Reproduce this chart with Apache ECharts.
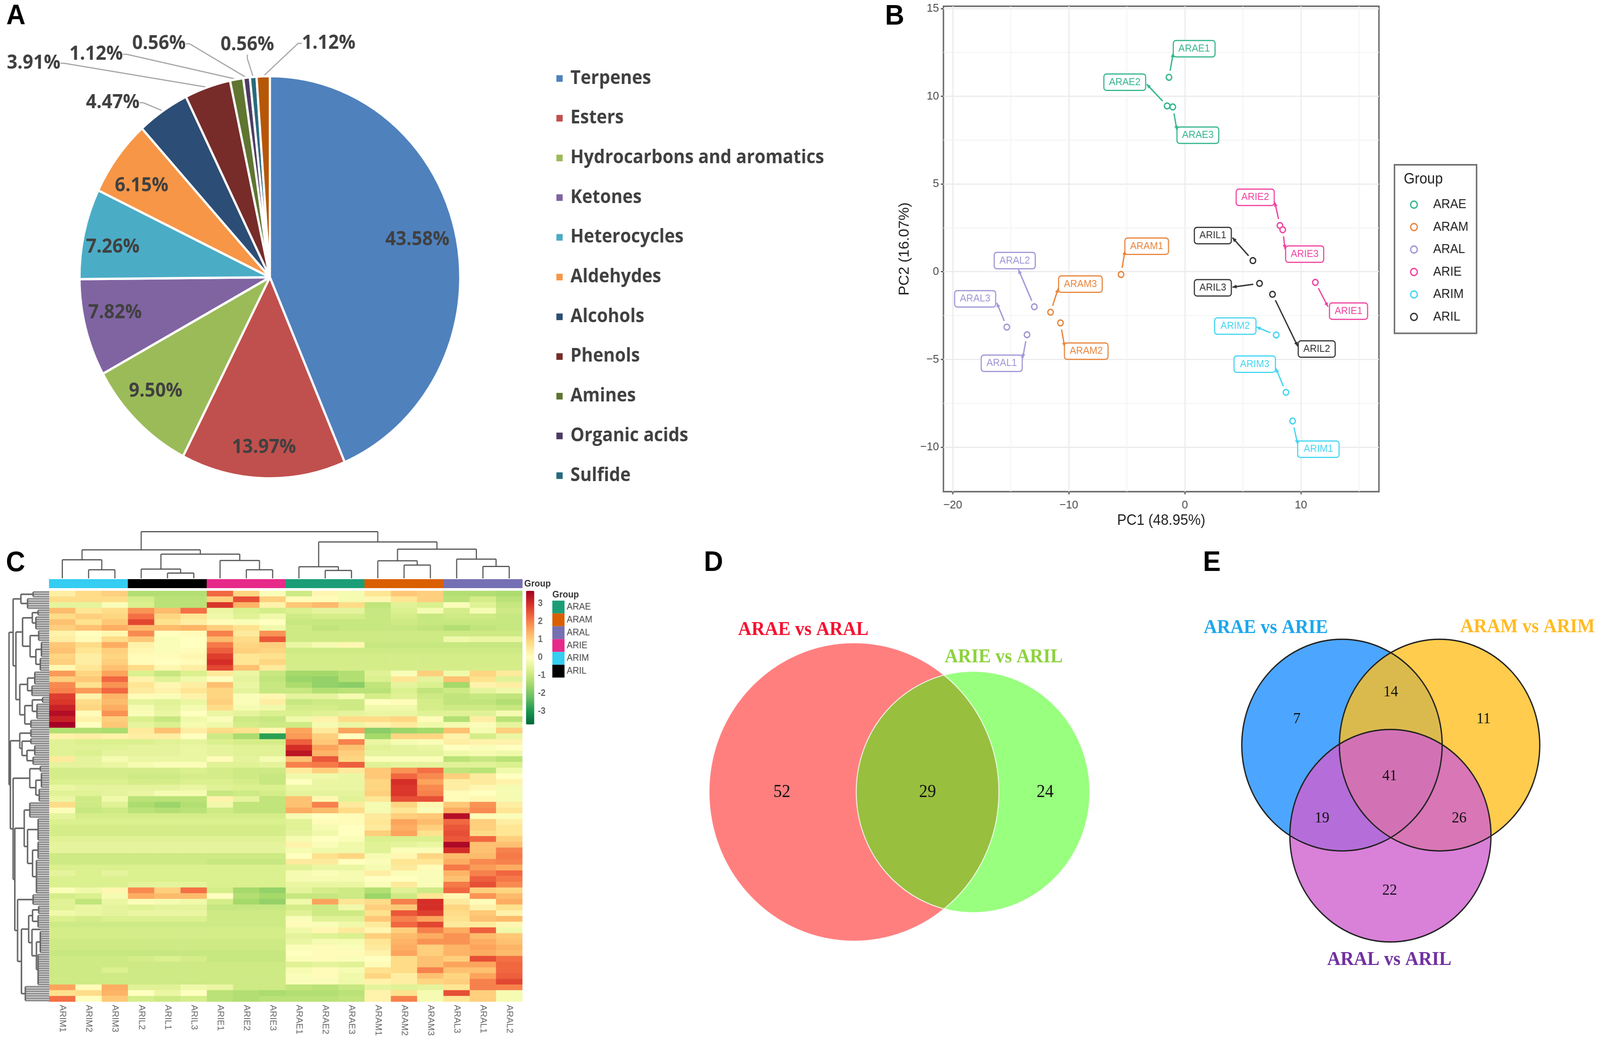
<!DOCTYPE html>
<html><head><meta charset="utf-8"><title>Volatile metabolites panel figure</title>
<style>html,body{margin:0;padding:0;background:#fff;overflow:hidden}#c{width:4328px;height:2658px;transform-origin:0 0}</style>
<script src="https://cdn.jsdelivr.net/npm/echarts@6/dist/echarts.min.js"></script></head><body><div id="c"></div>
<script>
/* ---------- Panel A ---------- */
const pieCategories=['Terpenes','Esters','Hydrocarbons and aromatics','Ketones','Heterocycles','Aldehydes','Alcohols','Phenols','Amines','Organic acids','Sulfide','Other'];
const pieValues=[43.58,13.97,9.50,7.82,7.26,6.15,4.47,3.91,1.12,0.56,0.56,1.12];
const pieColors=['#4F81BD','#C0504D','#9BBB59','#8064A2','#4BACC6','#F79646','#2C4D75','#772C2A','#5F7530','#4D3B62','#276A7C','#B65708'];
const pieLabelAt=[[1129,614],[714,1146],[421,1002],[311,801],[305,633],[383,476],[305,263],[91,162],[260,139],[430,112],[669,115],[889,111]];
/* ---------- Panel B ---------- */
const pcaGroups=['ARAE','ARAM','ARAL','ARIE','ARIM','ARIL'];
const pcaColors=['#35B58E','#E8853C','#9D96D6','#F0439F','#45D6F3','#333333'];
const pcaNames=['ARAE1','ARAE2','ARAE3','ARAM1','ARAM2','ARAM3','ARAL1','ARAL2','ARAL3','ARIE1','ARIE2','ARIE3','ARIM1','ARIM2','ARIM3','ARIL1','ARIL2','ARIL3'];
const pc1=[-1.37,-1.53,-1.04,-5.5,-10.72,-11.57,-13.6,-12.97,-15.34,11.24,8.19,8.43,9.28,7.87,8.71,5.86,7.55,6.43];
const pc2=[11.08,9.45,9.39,-0.16,-2.92,-2.31,-3.59,-2.0,-3.16,-0.61,2.63,2.39,-8.51,-3.61,-6.88,0.63,-1.29,-0.67];
const tagPC1=[0.8,-5.18,1.12,-3.29,-8.5,-9.0,-15.78,-14.66,-18.07,14.1,6.06,10.32,11.5,4.34,6.02,2.41,11.36,2.41];
const tagPC2=[12.71,10.8,7.78,1.45,-4.53,-0.71,-5.22,0.63,-1.55,-2.25,4.24,1.0,-10.12,-3.1,-5.27,2.06,-4.41,-0.92];
const tipPC1=[-1.0,-3.29,-0.68,-5.16,-10.36,-10.92,-13.98,-14.34,-16.2,12.33,7.75,8.63,9.72,6.18,7.83,4.1,9.72,4.1];
const tipPC2=[12.47,10.69,8.06,1.2,-4.29,-0.96,-4.94,0.12,-1.78,-2.0,3.96,1.29,-9.84,-3.16,-5.5,1.94,-4.25,-0.88];
const pcaXTicks=[-20,-10,0,10], pcaYTicks=[-10,-5,0,5,10,15];
const pcaXMinor=[-15,-5,5,15], pcaYMinor=[-7.5,-2.5,2.5,7.5,12.5];
/* ---------- Panel C ---------- */
const heatColumns=['ARIM1','ARIM2','ARIM3','ARIL2','ARIL1','ARIL3','ARIE1','ARIE2','ARIE3','ARAE1','ARAE2','ARAE3','ARAM1','ARAM2','ARAM3','ARAL3','ARAL1','ARAL2'];
const heatRows=[
[.4,.8,1,-1.3,-1.3,-1.3,2.3,.9,-.1,-.9,.2,-.2,.6,1.1,1,-1.3,-1.3,-1.4],
[.8,.8,.8,-.8,-1.2,-1.2,1,2.6,1,.1,.1,-.2,.2,.6,1,-1.2,-.8,-1.2],
[-.5,-.5,-.1,-.7,-1.2,-1.2,2.9,1.4,.3,1.1,1.3,.8,-1.1,-.6,-.7,-.1,-.6,-1],
[1.3,.6,.8,1.8,1.3,2.2,-.4,-.7,-.8,-.7,-.5,-.5,-1,-.7,-.2,-.8,-.2,-.9],
[.8,1,.9,2.2,.9,.6,-.3,-.6,-.3,-.9,-.8,-.8,-1,-.8,-1,-.9,-.9,-1],
[1.2,.7,1.1,2.7,.7,.4,.1,-.1,0,-1,-1,-1,-1,-.9,-1,-1,-1,-1],
[1,1.2,1.5,1.3,1.3,1.4,1,.7,-.3,-.9,-1.1,-1,-1,-1,-1.1,-1.3,-1.1,-1],
[.3,0,.2,1.9,0,.1,2,.5,1.8,-.9,-.9,-.9,-.9,-.9,-.9,-.9,-.9,-.9],
[.4,.1,.8,1.1,-.1,0,1.3,.8,2.5,-.9,-.9,-.9,-.9,-.9,-.9,-.3,-.4,-.4],
[1.1,.8,1.5,.3,-.1,0,2.1,.9,1,-.4,-.2,.2,-1,-1,-1,-1,-1,-1],
[1.2,.6,1,.2,-.1,.1,2.4,1,.9,-.9,-.9,-.9,-.9,-.9,-.9,-.9,-.9,-.9],
[.9,.4,.9,.1,.1,.2,2.8,.6,.7,-.8,-.8,-.8,-.8,-.8,-.8,-.8,-.8,-.8],
[1,.4,1,.1,0,.1,3,.6,.9,-.8,-.8,-.8,-.8,-.8,-.8,-.8,-.8,-.8],
[.2,.6,1.2,.8,.2,.4,2.7,1.2,.5,-.8,-.8,-.8,-.8,-.8,-.8,-.8,-.8,-.8],
[1.7,.9,1.6,-.7,-1,-.7,.5,-.4,-1,-1.5,-1.5,-1.3,-.6,-.1,1,-.3,.9,.5],
[1,1.1,2.3,.3,-.6,-.3,0,-.5,-1.1,-1.6,-1.7,-1.3,-.7,.6,-.5,1.2,.7,-.6],
[1.9,.7,1.8,.6,.2,.4,1.2,-.4,-1,-1.4,-1.7,-1.8,-1.1,-.5,-.7,-1.5,.3,.4],
[2,1.7,2.3,.5,.3,.6,.9,-.5,-1,-1,-1.3,-1.2,-1.2,-.7,-1.1,-.9,-.5,-.3],
[2.8,.3,1.4,.1,-.1,.3,.9,-.1,.2,-.5,-.5,-.2,-.8,-.6,-.9,-1.1,-1,-1.1],
[2.9,.8,1.3,-.5,-.6,-.4,1,-.1,.4,-1,-.9,-.9,0,.1,-.8,-1.1,-1.1,-1.3],
[3.2,.9,1.5,-.2,-.5,-.2,.8,-.2,-.3,-.8,-.8,-.9,-.3,-.3,-.8,-.9,-.9,-1],
[3.5,.1,1.8,-.1,-.4,0,-.4,-.5,-.7,-.7,-.6,-.5,-.4,-.4,-.6,-.6,-.6,-.2],
[3.2,.3,1,-.7,-1,-.3,-.1,-.9,-1,-.3,.3,.8,.8,.9,.1,-1.3,.4,-1.2],
[3.7,0,1.1,-.5,-.7,-.2,-.3,-.8,-.9,-.9,-.2,-.4,.3,.5,-.3,-.2,-.1,-.5],
[-1.3,-1.3,-1.4,.5,1.2,.4,.8,.7,.2,1.6,.5,1.6,-1.8,-1.6,-1.5,1.2,-.2,1],
[.3,.4,.3,.4,.4,0,-.9,-1.4,-2.8,1.7,1,0,-1.5,.9,.9,.3,-.8,-.4],
[-.6,-.7,-.7,-.7,-.6,-.5,-.7,-.8,-.8,2.4,1.1,2,-.4,-.2,-.1,.4,.3,.3],
[-.6,-.6,-.6,-.5,-.5,-.4,-.5,-.6,-.6,3,1.6,1.2,-.6,-.5,-.4,0,-.1,0],
[-.6,-.7,-.5,-.5,-.5,-.4,-.5,-.6,-.6,3.4,1.4,1,-.5,-.5,-.5,-.3,-.2,-.3],
[.5,-.5,-.2,-.4,-.4,-.4,.1,-.5,-.2,1.2,2.5,.9,-.1,-.1,-.1,-1.2,-1,-1.2],
[-.5,-.5,-.4,-.2,-.1,-.1,-.6,-.6,-.5,2,2.1,2.4,-.6,-.5,-.5,-.6,-.6,-.7],
[-.8,-.8,-.8,-.8,-.8,-.7,-.8,-.9,-.9,.5,1,.5,1.1,1.8,2.2,-1.1,-1.2,-.3],
[-.8,-.8,-.8,-.9,-.9,-.8,-.8,-.9,-1,-.3,-.3,-.4,1.1,2.3,1.9,1,.5,0],
[-.7,-.7,-.7,-.8,-.8,-.7,-.7,-.8,-1,0,-.4,-.4,.9,3,1.6,.4,.5,.3],
[-.4,-.5,-.5,-.5,-.5,-.4,-.6,-.7,-.7,-.4,-.4,-.4,.9,2.9,1.9,.4,.2,-.2],
[-.6,-.6,-.5,-.4,-.2,-.2,-1,-.9,-.8,-.5,-.5,-.5,1,2.9,2,.1,0,-.2],
[-.4,-.9,-.3,-1.2,-1.2,-1.2,.3,-.5,-1.1,1.2,.2,-.6,.6,2.6,2.6,.1,.2,-.2],
[.8,-.9,-.6,-1.4,-1.6,-1.3,-.3,-1.1,-1.1,1.2,2,.5,-.2,.9,.2,1.1,1.8,.4],
[-.1,-1,-.9,-1.2,-1.3,-1.2,-.9,-1.1,-1.1,1.5,1.3,.8,-.2,.6,-.1,1.5,1.9,.6],
[-.5,-.8,-.8,-.8,-.8,-.8,-.8,-.8,-.8,-.2,0,.1,.5,1,1.1,3.5,.1,-.1],
[-.7,-.7,-.7,-.7,-.7,-.7,-.7,-.7,-.7,-.6,.1,.1,.6,1.6,1.3,2.3,1,.4],
[-.8,-.8,-.8,-.8,-.8,-.8,-.8,-.8,-.8,-.6,-.2,0,.5,1.5,1,2.5,1,.6],
[-.8,-.8,-.8,-.8,-.8,-.8,-.8,-.8,-.8,-.5,-.3,0,1,1.6,.7,2.6,.8,.6],
[-.6,-.6,-.6,-.6,-.6,-.6,-.6,-.6,-.6,-.2,0,-.1,-.7,-.7,-.7,2.5,2.3,1],
[-.5,-.5,-.5,-.5,-.5,-.5,-.5,-.5,-.5,.3,-.1,-.3,-.6,-.5,-.4,3.6,1.2,1.2],
[-.5,-.5,-.5,-.5,-.5,-.5,-.5,-.5,-.5,-.2,-.3,-.3,-.6,-.1,-.1,3,1.2,2],
[-.9,-.9,-.9,-.9,-.9,-.9,-.9,-.9,-.9,0,.7,.9,-.2,.2,.9,1.3,1.3,2.1],
[-.9,-.9,-.9,-.9,-.9,-.9,-1,-1,-1,.5,.5,0,-.1,.6,.6,1.5,1.9,2],
[-.7,-.7,-.7,-.7,-.7,-.7,-.7,-.7,-.7,-.6,-.4,-.4,-.2,.5,.1,2.1,1.7,1.5],
[-.5,-.7,-.5,-.7,-.7,-.7,-.7,-.7,-.7,-.2,-.1,-.2,.4,-.1,-.1,1.4,2,2.3],
[-.7,-.7,-.7,-.7,-.7,-.7,-.7,-.7,-.7,-.2,-.2,-.2,0,0,-.1,1.2,2.4,2.1],
[-.7,-.7,-.7,-.5,-.5,-.5,-.7,-.7,-.7,-.4,-.4,-.4,-.1,.5,-.1,2.1,2.6,1.9],
[-.1,-.3,.2,1.9,1,2.2,-.8,-1.5,-1.7,-.5,-.8,-.9,-1.3,-.6,-.9,2.3,1,.9],
[-.8,-.7,-.2,1.5,1.3,1.3,0,-1.3,-1.5,-1,-1,-.9,-1.6,-.9,.6,.2,1.8,1.3],
[-.6,-1.1,-.4,-.1,-.2,-.3,-.8,-1.5,-1.7,-.3,1.6,.6,.8,2,3,.5,.1,1.5],
[-.6,-.4,-.5,-.6,-.5,-.5,-1,-1,-1,-.8,-.9,-.3,1,1.1,3,.9,.3,.7],
[-.3,-.4,-.5,-.4,-.4,-.4,-.9,-.9,-.9,-.6,-.9,-.9,.7,2.5,2.8,.8,1.1,.3],
[-.7,-.8,-.7,-.7,-.7,-.7,-.9,-.9,-.9,-.1,-.6,-.6,1.1,2,1.6,.7,1.2,1.3],
[-.9,-.9,-.9,-.9,-.9,-.9,-.9,-.9,-.9,.1,-.1,-.3,.5,2.3,2.7,.5,.5,.2],
[-.8,-.8,-.8,-.8,-.8,-.8,-.8,-.8,-.8,-.3,.2,.5,.2,1,2,1.5,2.4,-.3],
[-.8,-.8,-.8,-.8,-.8,-.8,-.8,-.8,-.8,-.5,-.6,-.7,1,1.3,1.5,1.8,1.3,1.1],
[-.9,-.9,-.9,-.9,-.9,-.9,-.9,-.9,-.9,-.4,-.2,-.2,.6,1.4,1.8,1.8,1.5,1.2],
[-.9,-.9,-.9,-.9,-.9,-.9,-.9,-.9,-.9,-.1,.1,-.1,.5,1.5,1,1.4,1.6,1.4],
[-1,-1,-1,-1,-1,-1,-1,-1,-1,0,.1,.1,.3,1.6,1,1.4,1.5,1.3],
[-.9,-.9,-.9,-.8,-.7,-.8,-1,-1,-1,-.1,.1,-.1,0,.8,1.2,1,2.6,2.2],
[-.9,-.9,-.9,-.9,-.9,-.9,-.9,-.9,-.9,-.6,-.5,-.6,.1,.8,1.2,1.6,1.6,2.3],
[-.9,-.9,-.7,-.9,-.9,-.9,-.9,-.9,-.9,-.2,.1,-.2,.7,.8,2,1.2,1.2,2.3],
[-.9,-.9,-.9,-.9,-.9,-.9,-.9,-.9,-.9,-.1,.1,-.3,.9,.4,1.2,.9,1.6,2.4],
[-.9,-.9,-.9,-.9,-.9,-.9,-.9,-.9,-.9,-.1,-.1,-.3,.3,.4,.9,1,2,2.7],
[1.6,.1,1.5,-.6,-.6,-.3,-.4,-.9,-.9,-1.1,-1.2,-1,-.5,-.6,-.5,.6,2,2],
[.7,.8,1.4,0,-.4,0,-1.2,-1.3,-1.4,-1.3,-1.3,-1.2,.3,.7,-.2,2.6,1,-.2],
[2.2,0,1.1,-.8,-.9,-.8,-1.2,-1.3,-1.2,-1.2,-1.2,-1.1,.3,2,-.2,.6,1,-.2]
];
const heatScale=['#006837','#1A9850','#66BD63','#A6D96A','#D9EF8B','#FFFFBF','#FEE08B','#FDAE61','#F46D43','#D73027','#A50026'];
const scaleTicks=[-3,-2,-1,0,1,2,3];
const annotGroups=['ARAE','ARAM','ARAL','ARIE','ARIM','ARIL'];
const annotColors=['#1B9E77','#D95F02','#7570B3','#E7298A','#35CDF2','#000000'];
const columnGroup=[4,4,4,5,5,5,3,3,3,0,0,0,1,1,1,2,2,2];
const columnTree=[141,[86,[56,0,[26,1,2]],[73,[28,3,[16,4,5]],[54,6,[26,7,8]]]],[110,[35,9,[24,10,11]],[88,[53,12,[40,13,14]],[58,15,[36,16,17]]]]];
const rowTree=[38,
 [75,[145,[255,3],[205,5]],
  [100,
   [160,[248,[300,3],[280,6]],[228,[305,5],[280,[330,7],[320,6]]]],
   [135,[205,[270,6],[245,5]],[180,[248,[340,3],[290,7]],[235,4]]]]],
 [50,
  [135,[235,4],[155,[235,3],[200,[270,5],[255,4]]]],
  [75,
   [225,[320,3],[280,[330,7],[310,6]]],
   [90,
    [175,[225,7],[205,[300,10],[250,[300,8],[285,15]]]],
    [115,[255,5],[150,[215,[250,[305,4],[300,6]],[245,[320,1],[285,[320,10],[300,14]]]],[185,7]]]]]]];
/* ---------- Panels D, E ---------- */
const vennDNames=['ARAE vs ARAL','ARIE vs ARIL'];
const vennDCx=[410,732],vennDCy=[388,388],vennDRx=[392,316],vennDRy=[382,309];
const vennDFills=['rgba(255,0,0,0.5)','rgba(51,255,0,0.5)'];
const vennDCounts=[52,29,24],vennDCountX=[215,609,927],vennDCountY=[389,389,389];
const vennENames=['ARAE vs ARIE','ARAM vs ARIM','ARAL vs ARIL'];
const vennECx=[290,554,421],vennECy=[288,288,520],vennER=[271,271,272];
const vennEFills=['rgba(0,128,255,0.7)','rgba(255,191,33,0.8)','rgba(207,96,207,0.8)'];
const vennECounts=[7,14,11,41,19,26,22],vennECountX=[168,422,673,419,236,607,419],vennECountY=[221,152,221,367,475,475,660];

/* The browser window may be narrower than the 4328 design width: squeeze the drawing to fit it. */
const DESIGN_W=4328,DESIGN_H=2658;
const host=document.getElementById('c');
const fit=Math.min(1,window.innerWidth/DESIGN_W);
if(fit<1)host.style.transform='scaleX('+fit+')';

const SANS='"Liberation Sans",Arial,sans-serif',SERIF='"Liberation Serif","Times New Roman",serif',PIEF='"Open Sans",sans-serif';
const txt=(t,x,y,font,fill,al)=>({type:'text',x,y,z:100,silent:true,style:{text:t,font,fill,textAlign:al||'center',textVerticalAlign:'middle'}});
const graphics=[
 txt('A',43,42,'bold 72px '+SANS,'#000'),txt('B',2420,43,'bold 72px '+SANS,'#000'),txt('C',42,1443,'bold 72px '+SANS,'#000'),
 txt('D',1930,1442,'bold 72px '+SANS,'#000'),txt('E',3278,1442,'bold 72px '+SANS,'#000'),
 txt('Group',3850,460,'38px '+SANS,'#222'),
 txt('Group',1418,1495,'bold 24px '+SANS,'#333','left'),txt('Group',1494,1523,'bold 24px '+SANS,'#333','left'),
 txt(vennDNames[0],2173,1613,'bold 50px '+SERIF,'#F5102F'),txt(vennDNames[1],2715,1683,'bold 50px '+SERIF,'#8CD23C'),
 txt(vennENames[0],3424,1608,'bold 50px '+SERIF,'#1AA7EE'),txt(vennENames[1],4132,1606,'bold 50px '+SERIF,'#FFBB22'),
 txt(vennENames[2],3758,2458,'bold 50px '+SERIF,'#7030A0')
];

/* tree helpers */
function colSegments(){const s=[];(function w(n){if(typeof n==='number')return[n+.5,0];const a=w(n[1]),b=w(n[2]);s.push([a[0],a[1],a[0],n[0]],[a[0],n[0],b[0],n[0]],[b[0],n[0],b[0],b[1]]);return[(a[0]+b[0])/2,n[0]];})(columnTree);return s;}
let leafTotal=0;
function rowSegments(){const s=[];const leaves=[];(function w(n){
  if(n.length===2){const st=leafTotal;for(let i=0;i<n[1];i++){leaves.push([n[0],leafTotal+.5,400,leafTotal+.5]);leafTotal++;}
    if(n[1]>1)s.push([n[0],st+.5,n[0],leafTotal-.5]);return[n[0],st+n[1]/2];}
  const a=w(n[1]),b=w(n[2]);s.push([n[0],a[1],a[0],a[1]],[n[0],b[1],b[0],b[1]],[n[0],a[1],n[0],b[1]]);return[n[0],(a[1]+b[1])/2];
 })(rowTree);return{s,leaves};}
const colSeg=colSegments();const rowSeg=rowSegments();
const segRender=(list,color,w)=>(p,api)=>{const d=list[p.dataIndex];const a=api.coord([d[0],d[1]]),b=api.coord([d[2],d[3]]);return{type:'line',shape:{x1:a[0],y1:a[1],x2:b[0],y2:b[1]},style:{stroke:color,lineWidth:w,fill:null}};};

const heatData=[];heatRows.forEach((r,i)=>r.forEach((v,j)=>heatData.push([j,i,v])));
const rowIds=heatRows.map((_,i)=>'m'+(i+1));

const hidden=(extra)=>Object.assign({show:false},extra);
const grids=[
 {left:2552,top:16,width:1178,height:1243,show:true,borderColor:'#707070',borderWidth:4,backgroundColor:'#fff'},
 {left:133,top:1513,width:1280,height:1052},
 {left:133,top:1483,width:1280,height:23},
 {left:133,top:1330,width:1280,height:151},
 {left:13,top:1513,width:120,height:1052},
 {left:1423,top:1513,width:22,height:342},
 {left:1494,top:1538,width:33,height:197},
 {left:1900,top:1640,width:1060,height:780},
 {left:3340,top:1620,width:840,height:810}
];
const axLabel={fontFamily:SANS,fontSize:30,color:'#4D4D4D',formatter:v=>String(v).replace('-','\u2212')};
const xAxes=[
 {gridIndex:0,type:'value',min:-20.8,max:16.72,name:'PC1 (48.95%)',nameLocation:'middle',nameGap:56,nameTextStyle:{fontFamily:SANS,fontSize:38,color:'#222'},
  axisLine:{show:false,onZero:false},axisTick:{show:true,length:7,customValues:pcaXTicks,lineStyle:{color:'#555',width:3}},axisLabel:Object.assign({customValues:pcaXTicks,margin:20},axLabel),splitLine:{show:true,lineStyle:{color:'#EBEBEB',width:3}}},
 {gridIndex:1,type:'category',data:heatColumns,axisLine:{show:false},axisTick:{show:false},axisLabel:{rotate:-90,interval:0,margin:8,fontFamily:SANS,fontSize:23,color:'#666'}},
 hidden({gridIndex:2,type:'category',data:heatColumns}),
 hidden({gridIndex:3,type:'value',min:0,max:18}),
 hidden({gridIndex:4,type:'value',min:0,max:400}),
 hidden({gridIndex:5,type:'value',min:0,max:1}),
 hidden({gridIndex:6,type:'category',data:['Group']}),
 hidden({gridIndex:7,type:'value',min:0,max:1060}),
 hidden({gridIndex:8,type:'value',min:0,max:840})
];
const yAxes=[
 {gridIndex:0,type:'value',min:-12.54,max:15.13,name:'PC2 (16.07%)',nameLocation:'middle',nameGap:85,nameRotate:90,nameTextStyle:{fontFamily:SANS,fontSize:38,color:'#222'},
  axisLine:{show:false,onZero:false},axisTick:{show:true,length:7,customValues:pcaYTicks,lineStyle:{color:'#555',width:3}},axisLabel:Object.assign({customValues:pcaYTicks,margin:12},axLabel),splitLine:{show:true,lineStyle:{color:'#EBEBEB',width:3}}},
 hidden({gridIndex:1,type:'category',data:rowIds,inverse:true}),
 hidden({gridIndex:2,type:'category',data:['Group']}),
 hidden({gridIndex:3,type:'value',min:0,max:178}),
 hidden({gridIndex:4,type:'value',min:0,max:leafTotal,inverse:true}),
 {gridIndex:5,type:'value',min:-3.72,max:3.72,position:'right',axisLine:{show:false},axisTick:{show:false},splitLine:{show:false},axisLabel:{customValues:scaleTicks,margin:10,fontFamily:SANS,fontSize:23,fontWeight:'bold',color:'#666'}},
 {gridIndex:6,type:'category',data:annotGroups,inverse:true,position:'right',axisLine:{show:false},axisTick:{show:false},axisLabel:{margin:6,fontFamily:SANS,fontSize:24,color:'#444'}},
 hidden({gridIndex:7,type:'value',min:0,max:780,inverse:true}),
 hidden({gridIndex:8,type:'value',min:0,max:810,inverse:true})
];

const pieData=pieCategories.map((n,i)=>{const out=i>=6;return{name:n,value:pieValues[i],itemStyle:{color:pieColors[i]},
  label:{show:true,position:out?'outside':'inside'},labelLine:{show:out,length:20,length2:10,smooth:false,lineStyle:{color:'#A6A6A6',width:3}}};});

const series=[
 {type:'pie',name:'Composition',center:[730,710],radius:[0,515],startAngle:90,clockwise:true,avoidLabelOverlap:false,silent:true,
  itemStyle:{borderColor:'#fff',borderWidth:6},
  label:{formatter:p=>p.value.toFixed(2)+'%',fontFamily:PIEF,fontWeight:'bold',fontSize:50,color:'#404040'},
  labelLayout:p=>{const a=pieLabelAt[p.dataIndex];return{x:a[0],y:a[1],align:'center',verticalAlign:'middle'};},data:pieData},
 {type:'custom',name:'tags',xAxisIndex:0,yAxisIndex:0,z:3,clip:false,data:pcaNames.map((n,i)=>[tagPC1[i],tagPC2[i]]),
  renderItem:(p,api)=>{const i=p.dataIndex,g=Math.floor(i/3),c=pcaColors[g];
   const P=api.coord([pc1[i],pc2[i]]),T=api.coord([tipPC1[i],tipPC2[i]]),B=api.coord([tagPC1[i],tagPC2[i]]);
   const dx=P[0]-T[0],dy=P[1]-T[1],L=Math.hypot(dx,dy),ux=dx/L,uy=dy/L,E=[P[0]-ux*17,P[1]-uy*17];
   const w=[113,118,111,103,112,100][g],h=42,ah=11;
   return{type:'group',children:[
    {type:'line',shape:{x1:T[0],y1:T[1],x2:E[0],y2:E[1]},style:{stroke:c,lineWidth:3.5}},
    {type:'polygon',shape:{points:[T,[T[0]+ux*ah-uy*5,T[1]+uy*ah+ux*5],[T[0]+ux*ah+uy*5,T[1]+uy*ah-ux*5]]},style:{fill:c}},
    {type:'rect',shape:{x:B[0]-w/2,y:B[1]-h/2,width:w,height:h,r:7},style:{fill:'#fff',stroke:c,lineWidth:3}},
    {type:'text',style:{text:pcaNames[i],x:B[0],y:B[1],font:'26px '+SANS,fill:c,textAlign:'center',textVerticalAlign:'middle'}}]};}}
];
pcaGroups.forEach((g,k)=>{const d=[];pcaNames.forEach((n,i)=>{if(Math.floor(i/3)===k)d.push([pc1[i],pc2[i],n]);});
 const s={type:'scatter',name:g,xAxisIndex:0,yAxisIndex:0,z:4,symbol:'circle',symbolSize:15,itemStyle:{color:'#fff',borderColor:pcaColors[k],borderWidth:3.5,opacity:1},data:d};
 if(k===0)s.markLine={silent:true,symbol:'none',z:1,label:{show:false},lineStyle:{color:'#F2F2F2',width:2,type:'solid'},data:pcaXMinor.map(v=>({xAxis:v})).concat(pcaYMinor.map(v=>({yAxis:v})))};
 series.push(s);});
const heatIndex=series.length;
series.push({type:'heatmap',name:'Relative abundance',xAxisIndex:1,yAxisIndex:1,progressive:0,silent:true,itemStyle:{borderWidth:0},data:heatData});
series.push({type:'custom',name:'annotation',xAxisIndex:2,yAxisIndex:2,data:heatColumns.map((c,i)=>[i,0]),
 renderItem:(p,api)=>{const a=api.coord([p.dataIndex,0]),s=api.size([1,1]);return{type:'rect',shape:{x:a[0]-s[0]/2-.5,y:a[1]-s[1]/2,width:s[0]+1,height:s[1]},style:{fill:annotColors[columnGroup[p.dataIndex]]}};}});
series.push({type:'custom',name:'colTree',xAxisIndex:3,yAxisIndex:3,data:colSeg.map(d=>[d[0],d[1]]),renderItem:segRender(colSeg,'#555',3)});
series.push({type:'custom',name:'rowLeaves',xAxisIndex:4,yAxisIndex:4,data:rowSeg.leaves.map(d=>[d[0],d[1]]),renderItem:segRender(rowSeg.leaves,'#8F8F8F',4.6)});
series.push({type:'custom',name:'rowTree',xAxisIndex:4,yAxisIndex:4,z:3,data:rowSeg.s.map(d=>[d[0],d[1]]),renderItem:segRender(rowSeg.s,'#666',4)});
series.push({type:'custom',name:'groupLegend',xAxisIndex:6,yAxisIndex:6,data:annotGroups.map((g,i)=>[0,i]),
 renderItem:(p,api)=>{const a=api.coord([0,p.dataIndex]),s=api.size([1,1]);return{type:'rect',shape:{x:a[0]-s[0]/2,y:a[1]-s[1]/2,width:s[0],height:s[1]},style:{fill:annotColors[p.dataIndex]}};}});
const vennRender=(cx,cy,rx,ry,fills,stroke,lw)=>(p,api)=>{const i=p.dataIndex,c=api.coord([cx[i],cy[i]]),s=api.size([rx[i],ry[i]]);
  return{type:'ellipse',shape:{cx:c[0],cy:c[1],rx:s[0],ry:s[1]},style:{fill:fills?fills[i]:'none',stroke,lineWidth:lw}};};
const countRender=(vals,font)=>(p,api)=>{const c=api.coord([api.value(0),api.value(1)]);return{type:'text',style:{text:String(vals[p.dataIndex]),x:c[0],y:c[1],font,fill:'#111',textAlign:'center',textVerticalAlign:'middle'}};};
series.push({type:'custom',name:'vennD',xAxisIndex:7,yAxisIndex:7,clip:false,data:vennDNames.map((n,i)=>[vennDCx[i],vennDCy[i]]),renderItem:vennRender(vennDCx,vennDCy,vennDRx,vennDRy,vennDFills,'none',0)});
series.push({type:'custom',name:'vennDOutline',xAxisIndex:7,yAxisIndex:7,clip:false,z:3,data:vennDNames.map((n,i)=>[vennDCx[i],vennDCy[i]]),renderItem:vennRender(vennDCx,vennDCy,vennDRx,vennDRy,null,'rgba(255,255,255,.85)',2.5)});
series.push({type:'custom',name:'vennDCounts',xAxisIndex:7,yAxisIndex:7,z:5,data:vennDCounts.map((v,i)=>[vennDCountX[i],vennDCountY[i]]),renderItem:countRender(vennDCounts,'46px '+SERIF)});
series.push({type:'custom',name:'vennE',xAxisIndex:8,yAxisIndex:8,clip:false,data:vennENames.map((n,i)=>[vennECx[i],vennECy[i]]),renderItem:vennRender(vennECx,vennECy,vennER,vennER,vennEFills,'none',0)});
series.push({type:'custom',name:'vennEOutline',xAxisIndex:8,yAxisIndex:8,clip:false,z:3,data:vennENames.map((n,i)=>[vennECx[i],vennECy[i]]),renderItem:vennRender(vennECx,vennECy,vennER,vennER,null,'#222',3.5)});
series.push({type:'custom',name:'vennECounts',xAxisIndex:8,yAxisIndex:8,z:5,data:vennECounts.map((v,i)=>[vennECountX[i],vennECountY[i]]),renderItem:countRender(vennECounts,'40px '+SERIF)});

const chart=echarts.init(host,null,{renderer:'canvas',width:DESIGN_W,height:DESIGN_H});
chart.setOption({backgroundColor:'#fff',animation:false,tooltip:{show:false},
 legend:[
  {orient:'vertical',left:1503,top:176,itemWidth:19,itemHeight:19,itemGap:51.7,padding:0,selectedMode:false,icon:'rect',data:pieCategories.slice(0,11),
   textStyle:{fontFamily:PIEF,fontWeight:'bold',fontSize:47.5,lineHeight:50,color:'#404040',padding:[0,0,0,15]}},
  {orient:'vertical',left:3772,top:422,padding:[82,22,22,42],itemWidth:18,itemHeight:18,itemGap:17.5,selectedMode:false,backgroundColor:'#fff',borderColor:'#707070',borderWidth:4,
   data:pcaGroups.map((g,i)=>({name:g,icon:'circle',itemStyle:{color:'#fff',borderColor:pcaColors[i],borderWidth:3.5}})),
   textStyle:{fontFamily:SANS,fontSize:33,lineHeight:40,color:'#222',padding:[0,0,0,38]}}
 ],
 visualMap:[{type:'continuous',seriesIndex:heatIndex,min:-3.72,max:3.72,left:1423,top:1513,itemWidth:22,itemHeight:342,padding:0,calculable:false,realtime:false,text:['',''],showLabel:false,inRange:{color:heatScale}}],
 grid:grids,xAxis:xAxes,yAxis:yAxes,series,graphic:{elements:graphics}});
</script></body></html>
